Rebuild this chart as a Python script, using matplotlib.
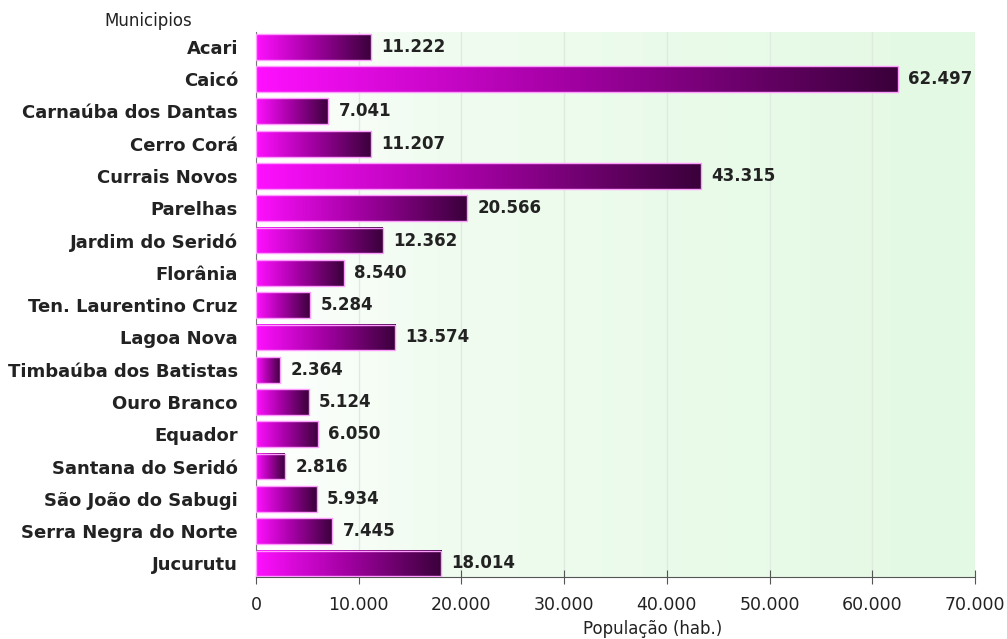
import numpy as np
import matplotlib.pyplot as plt
from matplotlib.colors import LinearSegmentedColormap

municipios = ["Acari", "Caicó", "Carnaúba dos Dantas", "Cerro Corá", "Currais Novos",
              "Parelhas", "Jardim do Seridó", "Florânia", "Ten. Laurentino Cruz",
              "Lagoa Nova", "Timbaúba dos Batistas", "Ouro Branco", "Equador",
              "Santana do Seridó", "São João do Sabugi", "Serra Negra do Norte", "Jucurutu"]
populacao = [11222, 62497, 7041, 11207, 43315, 20566, 12362, 8540, 5284,
             13574, 2364, 5124, 6050, 2816, 5934, 7445, 18014]
xticks = [0, 10000, 20000, 30000, 40000, 50000, 60000, 70000]

plt.rcParams['font.family'] = ['DejaVu Sans']

def fmt(v):
    return "{:,}".format(v).replace(",", ".")

fig = plt.figure(figsize=(10.07, 6.39), dpi=100)
ax = fig.add_axes([0.2542, 0.097, 0.7140, 0.853])

# background gradient white -> light green
bg = LinearSegmentedColormap.from_list("bg", [(0, "#ffffff"), (0.25, "#f0fcf0"), (1, "#e3f9e3")])
ax.imshow(np.linspace(0, 1, 256).reshape(1, -1), cmap=bg, aspect="auto",
          extent=[0, 1, 0, 1], transform=ax.transAxes, zorder=0)

barcmap = LinearSegmentedColormap.from_list("bar", ["#ff10ff", "#a000a0", "#3a003a"])
grad = np.linspace(0, 1, 256).reshape(1, -1)
h = 0.8
for i, v in enumerate(populacao):
    ax.imshow(grad, cmap=barcmap, aspect="auto", extent=[0, v, i + h / 2, i - h / 2],
              zorder=2, interpolation="bilinear")
    ax.add_patch(plt.Rectangle((0, i - h / 2), v, h, fill=False, edgecolor="#ff9cff",
                               linewidth=1, zorder=3))
    ax.text(v + 1000, i, fmt(v), va="center", ha="left", fontsize=12,
            fontweight="bold", color="#222222", zorder=4)

ax.set_xlim(0, 70000)
ax.set_ylim(16.42, -0.46)
ax.set_xticks(xticks)
ax.set_xticklabels([fmt(t) for t in xticks], fontsize=12.5, color="#222222")
ax.set_yticks(range(len(municipios)))
ax.set_yticklabels(municipios, fontsize=13, fontweight="bold", color="#222222")
ax.tick_params(axis="y", length=0, pad=13)
ax.tick_params(axis="x", direction="inout", length=10, color="#555555", pad=9)
ax.grid(axis="x", color="#dfebdf", linewidth=1, zorder=1)
ax.set_axisbelow(True)
for s in ["top", "right"]:
    ax.spines[s].set_visible(False)
ax.spines["left"].set_color("#777777")
ax.spines["bottom"].set_color("#555555")
ax.set_xlabel("População (hab.)", fontsize=12, color="#222222")
ax.xaxis.set_label_coords(0.551, -0.078)
fig.text(0.147, 0.967, "Municipios", ha="center", va="center", fontsize=12, color="#222222")

fig.savefig("out.png", dpi=100)
